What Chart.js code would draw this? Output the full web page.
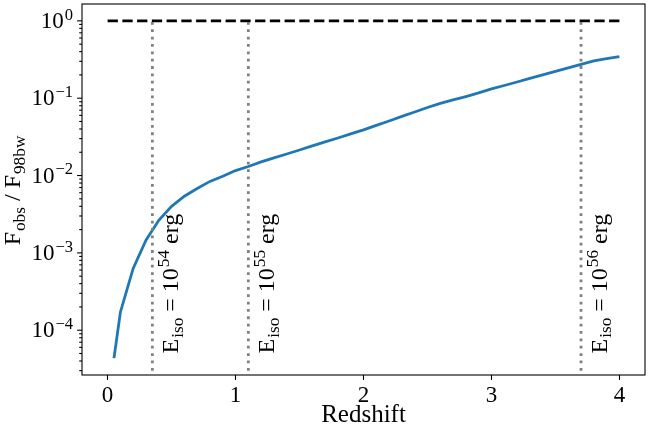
<!DOCTYPE html>
<html>
<head>
<meta charset="utf-8">
<script src="https://cdn.jsdelivr.net/npm/chart.js@4.4.0/dist/chart.umd.min.js"></script>
<style>
  html, body { margin: 0; padding: 0; background: #fff; }
</style>
</head>
<body>
<canvas id="chart" width="648" height="432"></canvas>
<script>
// Curve values
const redshift = [0.05, 0.1, 0.2, 0.3, 0.4, 0.5, 0.6, 0.7, 0.8, 0.9,
                  1.0, 1.1, 1.2, 1.3, 1.4, 1.5, 1.6, 1.7, 1.8, 1.9,
                  2.0, 2.1, 2.2, 2.3, 2.4, 2.5, 2.6, 2.7, 2.8, 2.9,
                  3.0, 3.1, 3.2, 3.3, 3.4, 3.5, 3.6, 3.7, 3.8, 3.9, 4.0];
const fluxRatio = [4.35e-5, 1.71e-4, 6.3e-4, 1.46e-3, 2.64e-3, 4.0e-3, 5.4e-3, 6.8e-3, 8.4e-3, 9.8e-3,
                   0.0116, 0.0131, 0.0150, 0.0169, 0.0190, 0.0214, 0.0242, 0.0272, 0.0306, 0.0345,
                   0.0389, 0.0445, 0.0508, 0.0581, 0.0664, 0.0759, 0.0855, 0.0949, 0.105, 0.117,
                   0.132, 0.146, 0.162, 0.180, 0.200, 0.222, 0.246, 0.273, 0.303, 0.324, 0.346];

// reference level F_obs = F_98bw
const refLineX = [0, 4];
const refLineY = [1, 1];

// redshifts where E_iso reaches 10^54, 10^55, 10^56 erg
const eisoRedshift = [0.35, 1.1, 3.7];
const eisoExponent = ['54', '55', '56'];
const vlineY = [3e-5, 1];

const xTicks = [0, 1, 2, 3, 4];
const yDecades = [0, -1, -2, -3, -4];

const FONT = "'Liberation Serif', 'Times New Roman', serif";
const yMin = Math.pow(10, -4.579);
const yMax = Math.pow(10, 0.218);

// draws text with sub/superscripts, baseline at (x, y)
function drawRich(ctx, parts, size, x, y, align) {
    const small = size * 0.72;
    let total = 0;
    parts.forEach(p => {
        ctx.font = (p.s ? small : size) + 'px ' + FONT;
        p.w = ctx.measureText(p.t).width + (p.s ? 1 : 0);
        total += p.w;
    });
    let cx = x;
    if (align === 'right') cx = x - total;
    else if (align === 'center') cx = x - total / 2;
    ctx.textAlign = 'left';
    ctx.textBaseline = 'alphabetic';
    parts.forEach(p => {
        ctx.font = (p.s ? small : size) + 'px ' + FONT;
        let dy = 0;
        if (p.s === 'sub') dy = size * 0.2;
        if (p.s === 'sup') dy = -size * 0.36;
        ctx.fillText(p.t, cx + (p.s ? 1 : 0), y + dy);
        cx += p.w;
    });
}

function isDecade(v) {
    const l = Math.log10(v);
    return Math.abs(l - Math.round(l)) < 1e-9;
}

const decorations = {
    id: 'decorations',
    afterDraw(chart) {
        const ctx = chart.ctx;
        const a = chart.chartArea;
        const xs = chart.scales.x;
        const ys = chart.scales.y;
        ctx.save();
        ctx.fillStyle = '#000';
        ctx.strokeStyle = '#000';

        // caixa do gráfico
        ctx.lineWidth = 1.1;
        ctx.strokeRect(a.left, a.top, a.right - a.left, a.bottom - a.top);

        // y tick marks (major + minor)
        ys.ticks.forEach(t => {
            const y = ys.getPixelForValue(t.value);
            const len = isDecade(t.value) ? 4.9 : 2.8;
            ctx.beginPath();
            ctx.moveTo(a.left, y);
            ctx.lineTo(a.left - len, y);
            ctx.stroke();
        });

        // y tick labels 10^k
        yDecades.forEach(k => {
            const y = ys.getPixelForValue(Math.pow(10, k));
            const exp = k === 0 ? '0' : '\u2212' + (-k);
            drawRich(ctx, [{ t: '10' }, { t: exp, s: 'sup' }], 23, a.left - 9, y + 7, 'right');
        });

        // y axis title
        ctx.save();
        ctx.translate(20, (a.top + a.bottom) / 2 + 1);
        ctx.rotate(-Math.PI / 2);
        drawRich(ctx, [{ t: 'F' }, { t: 'obs', s: 'sub' }, { t: ' / F' }, { t: '98bw', s: 'sub' }], 24, 0, 0, 'center');
        ctx.restore();

        // E_iso annotations next to dotted lines
        eisoRedshift.forEach((z, i) => {
            ctx.save();
            ctx.translate(xs.getPixelForValue(z + 0.2), ys.getPixelForValue(5e-5));
            ctx.rotate(-Math.PI / 2);
            drawRich(ctx, [{ t: 'E' }, { t: 'iso', s: 'sub' }, { t: ' = 10' }, { t: eisoExponent[i], s: 'sup' }, { t: ' erg' }], 24, 0, 0, 'left');
            ctx.restore();
        });
        ctx.restore();
    }
};

const datasets = [];
eisoRedshift.forEach(z => {
    datasets.push({
        data: vlineY.map(v => ({ x: z, y: v })),
        borderColor: '#808080',
        borderWidth: 2.78,
        borderDash: [2.78, 4.58],
        borderCapStyle: 'butt',
        order: 0
    });
});
datasets.push({
    data: redshift.map((z, i) => ({ x: z, y: fluxRatio[i] })),
    borderColor: '#1f77b4',
    borderWidth: 2.8,
    order: 1
});
datasets.push({
    data: refLineX.map((x, i) => ({ x: x, y: refLineY[i] })),
    borderColor: '#000',
    borderWidth: 2.8,
    borderDash: [10.3, 4.45],
    borderCapStyle: 'butt',
    order: 2
});
datasets.forEach(d => {
    d.showLine = true;
    d.pointRadius = 0;
    d.fill = false;
    d.tension = 0;
});

new Chart(document.getElementById('chart').getContext('2d'), {
    type: 'scatter',
    data: { datasets: datasets },
    options: {
        responsive: false,
        animation: false,
        devicePixelRatio: 1,
        layout: { padding: { top: 4, right: 3, left: 0, bottom: 0 } },
        plugins: { legend: { display: false }, tooltip: { enabled: false } },
        scales: {
            x: {
                type: 'linear',
                min: -0.2,
                max: 4.2,
                afterBuildTicks: s => { s.ticks = xTicks.map(v => ({ value: v })); },
                ticks: {
                    font: { family: FONT, size: 23 },
                    color: '#000',
                    padding: 2,
                    maxRotation: 0,
                    callback: v => String(v)
                },
                grid: { drawOnChartArea: false, drawTicks: true, tickLength: 4.9, tickWidth: 1.1, tickColor: '#000' },
                border: { display: false },
                title: {
                    display: true,
                    text: 'Redshift',
                    font: { family: FONT, size: 25 },
                    color: '#000',
                    padding: { top: 0, bottom: 2 }
                },
                afterFit: s => { s.height = 57; }
            },
            y: {
                type: 'logarithmic',
                min: yMin,
                max: yMax,
                afterBuildTicks: s => {
                    const t = [];
                    for (let k = -5; k <= 0; k++) {
                        for (let m = 1; m <= 9; m++) {
                            const v = m * Math.pow(10, k);
                            if (v >= yMin && v <= yMax) t.push({ value: v });
                        }
                    }
                    s.ticks = t;
                },
                ticks: { display: false },
                grid: { display: false },
                border: { display: false },
                afterFit: s => { s.width = 82; }
            }
        }
    },
    plugins: [decorations]
});
</script>
</body>
</html>
